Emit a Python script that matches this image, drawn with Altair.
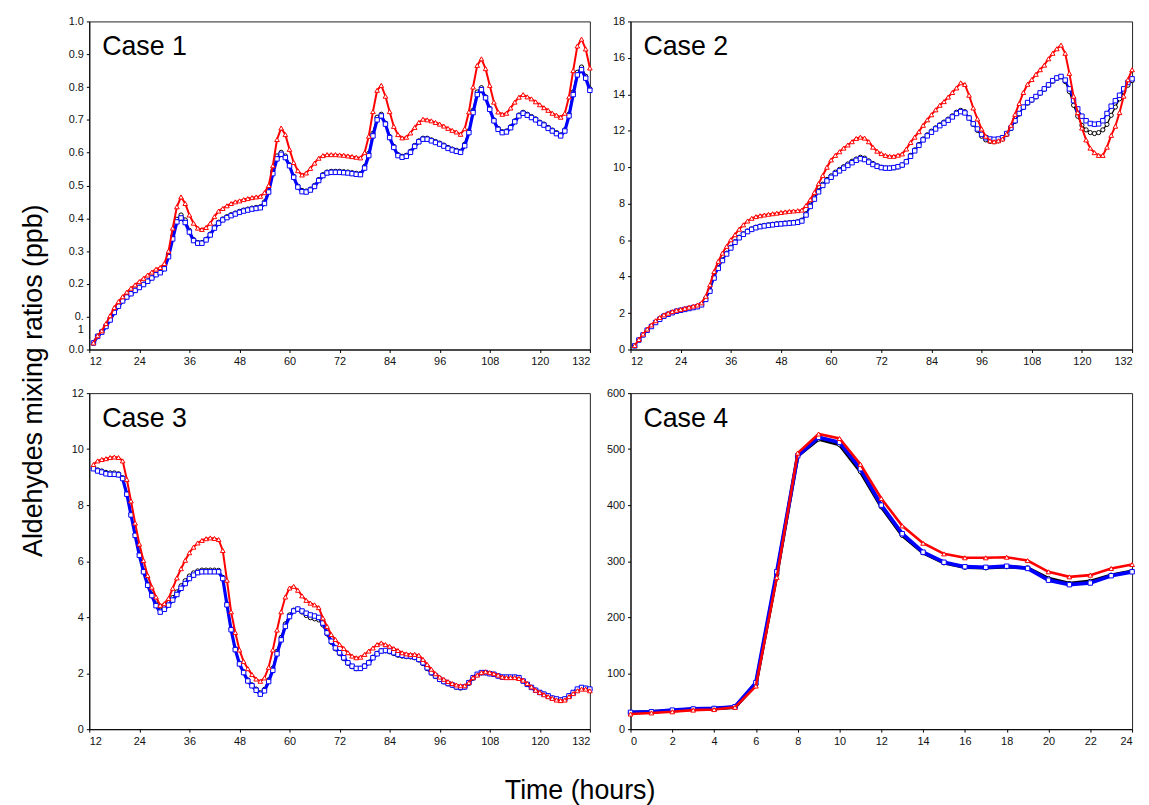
import altair as alt
import pandas as pd

FONT = "Liberation Sans"

HOURS_LONG = list(range(13, 133))
HOURS_DAY = list(range(0, 25))

CASE_LABELS = ["Case 1", "Case 2", "Case 3", "Case 4"]

X_TICKS_LONG = [12, 24, 36, 48, 60, 72, 84, 96, 108, 120, 132]
X_TICKS_DAY = [0, 2, 4, 6, 8, 10, 12, 14, 16, 18, 20, 22, 24]
Y_TICKS_1 = [0.0, 0.1, 0.2, 0.3, 0.4, 0.5, 0.6, 0.7, 0.8, 0.9, 1.0]
Y_TICKS_2 = [0, 2, 4, 6, 8, 10, 12, 14, 16, 18]
Y_TICKS_3 = [0, 2, 4, 6, 8, 10, 12]
Y_TICKS_4 = [0, 100, 200, 300, 400, 500, 600]

# ---------------- Case 1 (hours 13..132) ----------------
C1_RED = [
    0.020, 0.042, 0.057, 0.079, 0.103, 0.128, 0.146, 0.161, 0.175, 0.187,
    0.197, 0.207, 0.217, 0.227, 0.236, 0.245, 0.250, 0.262, 0.300, 0.370,
    0.435, 0.465, 0.445, 0.410, 0.385, 0.370, 0.366, 0.372, 0.385, 0.405,
    0.422, 0.430, 0.438, 0.445, 0.450, 0.453, 0.457, 0.460, 0.463, 0.465,
    0.467, 0.478, 0.500, 0.560, 0.640, 0.675, 0.655, 0.610, 0.570, 0.545,
    0.532, 0.538, 0.552, 0.568, 0.583, 0.591, 0.594, 0.594, 0.594, 0.593,
    0.592, 0.590, 0.588, 0.586, 0.584, 0.600, 0.650, 0.725, 0.790, 0.805,
    0.772, 0.725, 0.680, 0.655, 0.645, 0.647, 0.660, 0.677, 0.692, 0.702,
    0.700, 0.697, 0.692, 0.687, 0.681, 0.674, 0.668, 0.663, 0.656, 0.673,
    0.724, 0.800, 0.866, 0.886, 0.856, 0.805, 0.754, 0.724, 0.717, 0.720,
    0.736, 0.754, 0.769, 0.777, 0.770, 0.764, 0.755, 0.746, 0.737, 0.729,
    0.720, 0.714, 0.708, 0.720, 0.770, 0.850, 0.925, 0.946, 0.916, 0.858,
]
C1_BLUE = [
    0.020, 0.040, 0.053, 0.070, 0.090, 0.113, 0.132, 0.148, 0.160, 0.170,
    0.180, 0.189, 0.198, 0.208, 0.218, 0.228, 0.234, 0.246, 0.283, 0.337,
    0.389, 0.401, 0.387, 0.358, 0.332, 0.324, 0.324, 0.334, 0.349, 0.370,
    0.385, 0.395, 0.402, 0.408, 0.413, 0.418, 0.422, 0.425, 0.428, 0.430,
    0.432, 0.445, 0.480, 0.536, 0.581, 0.595, 0.585, 0.560, 0.525, 0.495,
    0.481, 0.480, 0.486, 0.497, 0.515, 0.530, 0.538, 0.540, 0.540, 0.540,
    0.539, 0.538, 0.536, 0.534, 0.533, 0.553, 0.591, 0.651, 0.700, 0.712,
    0.687, 0.646, 0.616, 0.591, 0.586, 0.589, 0.601, 0.619, 0.633, 0.641,
    0.641, 0.636, 0.631, 0.626, 0.620, 0.613, 0.608, 0.604, 0.601, 0.621,
    0.661, 0.722, 0.777, 0.792, 0.767, 0.732, 0.697, 0.671, 0.661, 0.663,
    0.676, 0.694, 0.712, 0.720, 0.714, 0.707, 0.700, 0.690, 0.684, 0.674,
    0.666, 0.658, 0.651, 0.666, 0.712, 0.777, 0.837, 0.853, 0.827, 0.790,
]
C1_BLACK = [
    0.020, 0.041, 0.054, 0.071, 0.091, 0.114, 0.133, 0.149, 0.161, 0.171,
    0.181, 0.190, 0.199, 0.209, 0.219, 0.229, 0.236, 0.250, 0.290, 0.345,
    0.397, 0.410, 0.395, 0.363, 0.335, 0.326, 0.326, 0.336, 0.352, 0.373,
    0.388, 0.398, 0.405, 0.411, 0.416, 0.421, 0.425, 0.428, 0.431, 0.433,
    0.435, 0.450, 0.487, 0.545, 0.590, 0.601, 0.590, 0.563, 0.528, 0.498,
    0.485, 0.483, 0.489, 0.500, 0.518, 0.533, 0.541, 0.543, 0.543, 0.543,
    0.542, 0.541, 0.539, 0.537, 0.536, 0.558, 0.598, 0.659, 0.708, 0.717,
    0.690, 0.649, 0.619, 0.594, 0.589, 0.592, 0.604, 0.622, 0.636, 0.644,
    0.644, 0.639, 0.634, 0.629, 0.623, 0.616, 0.611, 0.607, 0.604, 0.626,
    0.667, 0.729, 0.785, 0.798, 0.770, 0.735, 0.700, 0.674, 0.664, 0.666,
    0.679, 0.697, 0.715, 0.723, 0.717, 0.710, 0.703, 0.693, 0.687, 0.677,
    0.669, 0.661, 0.654, 0.670, 0.718, 0.785, 0.845, 0.861, 0.833, 0.795,
]

# ---------------- Case 2 (hours 13..132) ----------------
C2_RED = [
    0.22, 0.55, 0.85, 1.12, 1.35, 1.58, 1.76, 1.90, 1.99, 2.08,
    2.15, 2.20, 2.26, 2.32, 2.38, 2.44, 2.56, 2.92, 3.55, 4.28,
    4.84, 5.29, 5.66, 6.02, 6.30, 6.60, 6.84, 7.05, 7.20, 7.29,
    7.34, 7.38, 7.42, 7.45, 7.48, 7.52, 7.55, 7.58, 7.60, 7.62,
    7.65, 7.90, 8.22, 8.62, 9.10, 9.55, 10.00, 10.40, 10.65, 10.85,
    11.05, 11.22, 11.40, 11.58, 11.65, 11.60, 11.40, 11.10, 10.88, 10.75,
    10.65, 10.60, 10.60, 10.66, 10.73, 11.00, 11.36, 11.65, 11.95, 12.30,
    12.60, 12.88, 13.15, 13.40, 13.60, 13.85, 14.10, 14.35, 14.63, 14.54,
    13.95, 13.25, 12.65, 12.10, 11.70, 11.45, 11.40, 11.45, 11.55, 11.82,
    12.30, 12.90, 13.50, 14.10, 14.55, 14.81, 15.10, 15.35, 15.60, 15.95,
    16.25, 16.50, 16.70, 16.25, 15.15, 13.90, 13.00, 12.15, 11.50, 11.05,
    10.80, 10.65, 10.65, 11.10, 11.75, 12.25, 13.00, 13.90, 14.80, 15.35,
]
C2_BLUE = [
    0.20, 0.52, 0.80, 1.06, 1.26, 1.48, 1.66, 1.83, 1.93, 2.02,
    2.10, 2.15, 2.20, 2.25, 2.30, 2.35, 2.45, 2.75, 3.20, 3.92,
    4.45, 4.88, 5.24, 5.57, 5.88, 6.13, 6.32, 6.47, 6.59, 6.68,
    6.74, 6.78, 6.81, 6.84, 6.87, 6.89, 6.91, 6.93, 6.95, 6.98,
    7.05, 7.38, 7.85, 8.25, 8.65, 9.00, 9.25, 9.45, 9.65, 9.80,
    9.95, 10.10, 10.25, 10.38, 10.47, 10.42, 10.28, 10.15, 10.05, 9.98,
    9.95, 9.95, 9.98, 10.03, 10.12, 10.30, 10.60, 10.90, 11.20, 11.50,
    11.72, 11.92, 12.10, 12.28, 12.42, 12.58, 12.76, 12.95, 13.05, 12.98,
    12.70, 12.38, 12.10, 11.80, 11.62, 11.55, 11.53, 11.55, 11.62, 11.85,
    12.15, 12.55, 12.95, 13.30, 13.55, 13.70, 13.88, 14.08, 14.30, 14.52,
    14.75, 14.90, 14.98, 14.78, 14.30, 13.65, 13.20, 12.80, 12.55, 12.40,
    12.36, 12.38, 12.55, 12.95, 13.35, 13.65, 13.95, 14.30, 14.65, 14.85,
]
C2_BLACK = [
    0.21, 0.53, 0.81, 1.07, 1.28, 1.50, 1.68, 1.84, 1.94, 2.03,
    2.11, 2.16, 2.21, 2.26, 2.31, 2.36, 2.47, 2.78, 3.25, 3.98,
    4.50, 4.92, 5.28, 5.61, 5.91, 6.16, 6.35, 6.50, 6.62, 6.71,
    6.77, 6.81, 6.84, 6.87, 6.90, 6.92, 6.94, 6.96, 6.98, 7.01,
    7.10, 7.45, 7.92, 8.32, 8.72, 9.07, 9.33, 9.53, 9.73, 9.88,
    10.03, 10.18, 10.33, 10.45, 10.55, 10.50, 10.35, 10.20, 10.08, 10.00,
    9.96, 9.95, 9.97, 10.02, 10.12, 10.32, 10.65, 10.95, 11.25, 11.55,
    11.78, 11.98, 12.16, 12.33, 12.48, 12.64, 12.82, 13.02, 13.12, 13.05,
    12.72, 12.35, 12.02, 11.70, 11.50, 11.42, 11.40, 11.45, 11.55, 11.80,
    12.12, 12.52, 12.92, 13.28, 13.52, 13.68, 13.86, 14.06, 14.28, 14.50,
    14.72, 14.88, 14.96, 14.70, 14.15, 13.40, 12.80, 12.30, 12.05, 11.90,
    11.85, 11.90, 12.05, 12.35, 12.85, 13.30, 13.75, 14.15, 14.50, 14.75,
]

# ---------------- Case 3 (hours 13..132) ----------------
C3_RED = [
    9.45, 9.58, 9.63, 9.66, 9.70, 9.72, 9.70, 9.58, 8.92, 8.15,
    7.36, 6.61, 6.02, 5.49, 5.07, 4.72, 4.42, 4.48, 4.67, 5.03,
    5.40, 5.73, 6.03, 6.30, 6.50, 6.65, 6.74, 6.80, 6.83, 6.81,
    6.77, 6.38, 5.32, 4.19, 3.45, 2.83, 2.42, 2.16, 1.95, 1.79,
    1.71, 1.83, 2.21, 2.83, 3.54, 4.19, 4.72, 5.04, 5.10, 4.96,
    4.76, 4.60, 4.50, 4.44, 4.34, 3.97, 3.67, 3.38, 3.20, 3.02,
    2.88, 2.73, 2.61, 2.55, 2.57, 2.67, 2.79, 2.90, 3.02, 3.08,
    3.02, 2.96, 2.88, 2.81, 2.73, 2.69, 2.67, 2.67, 2.64, 2.49,
    2.31, 2.14, 1.98, 1.86, 1.78, 1.70, 1.63, 1.58, 1.55, 1.55,
    1.66, 1.84, 1.93, 2.02, 2.05, 2.02, 1.98, 1.93, 1.86, 1.84,
    1.84, 1.84, 1.81, 1.75, 1.63, 1.51, 1.39, 1.31, 1.23, 1.16,
    1.10, 1.04, 1.02, 1.04, 1.16, 1.27, 1.37, 1.43, 1.43, 1.37,
]
C3_BLUE = [
    9.30, 9.22, 9.18, 9.12, 9.10, 9.10, 9.08, 8.95, 8.39, 7.65,
    6.92, 6.21, 5.62, 5.14, 4.77, 4.41, 4.18, 4.28, 4.43, 4.61,
    4.81, 5.03, 5.20, 5.38, 5.50, 5.59, 5.62, 5.62, 5.62, 5.62,
    5.62, 5.38, 4.44, 3.55, 2.84, 2.33, 2.02, 1.72, 1.55, 1.39,
    1.25, 1.37, 1.70, 2.10, 2.69, 3.19, 3.67, 4.02, 4.22, 4.29,
    4.22, 4.14, 4.08, 4.04, 3.99, 3.79, 3.44, 3.14, 2.90, 2.73,
    2.55, 2.37, 2.25, 2.17, 2.17, 2.25, 2.37, 2.55, 2.69, 2.79,
    2.81, 2.79, 2.73, 2.67, 2.64, 2.61, 2.61, 2.57, 2.49, 2.37,
    2.19, 2.02, 1.90, 1.78, 1.70, 1.63, 1.58, 1.51, 1.49, 1.51,
    1.66, 1.84, 1.96, 2.02, 2.02, 1.98, 1.96, 1.90, 1.86, 1.86,
    1.86, 1.86, 1.84, 1.72, 1.60, 1.49, 1.39, 1.31, 1.25, 1.19,
    1.11, 1.08, 1.04, 1.08, 1.19, 1.31, 1.43, 1.49, 1.46, 1.43,
]
C3_BLACK = [
    9.32, 9.26, 9.22, 9.17, 9.15, 9.15, 9.12, 8.98, 8.42, 7.68,
    6.95, 6.25, 5.66, 5.18, 4.82, 4.47, 4.25, 4.35, 4.52, 4.70,
    4.90, 5.12, 5.30, 5.47, 5.58, 5.65, 5.68, 5.68, 5.68, 5.68,
    5.67, 5.42, 4.48, 3.58, 2.87, 2.36, 2.05, 1.76, 1.58, 1.43,
    1.30, 1.42, 1.76, 2.18, 2.78, 3.28, 3.76, 4.08, 4.25, 4.28,
    4.18, 4.06, 3.98, 3.94, 3.90, 3.72, 3.40, 3.10, 2.87, 2.70,
    2.52, 2.35, 2.23, 2.16, 2.17, 2.26, 2.39, 2.57, 2.71, 2.80,
    2.80, 2.76, 2.70, 2.64, 2.61, 2.59, 2.58, 2.55, 2.47, 2.34,
    2.16, 2.00, 1.88, 1.77, 1.69, 1.62, 1.57, 1.50, 1.47, 1.50,
    1.64, 1.82, 1.95, 2.01, 2.01, 1.98, 1.95, 1.90, 1.86, 1.85,
    1.85, 1.85, 1.83, 1.72, 1.60, 1.49, 1.39, 1.31, 1.25, 1.19,
    1.11, 1.07, 1.04, 1.07, 1.18, 1.30, 1.42, 1.48, 1.46, 1.42,
]

# ---------------- Case 4 (hours 0..24) ----------------
C4_RED = [27, 29, 31, 34, 35, 39, 77, 271, 493, 527, 519, 473, 412,
          363, 332, 313, 306, 306, 307, 301, 281, 272, 275, 287, 294]
C4_BLUE = [30, 31, 34, 36, 37, 40, 83, 281, 488, 521, 512, 465, 400,
           349, 316, 298, 290, 289, 291, 287, 266, 258, 261, 274, 281]
C4_BLACK = [30, 31, 33, 36, 37, 39, 80, 276, 488, 518, 508, 460, 397,
            346, 315, 297, 289, 288, 290, 288, 269, 260, 264, 275, 282]

STYLE = {
    "black": dict(color="#000000", shape="circle", size=18),
    "blue": dict(color="#0000FF", shape="square", size=20),
    "red": dict(color="#FF0000", shape="triangle-up", size=22),
}


def panel(hours, series, widths, xdom, xticks, ydom, yticks, label, width, height,
          yaxis_kwargs):
    xaxis = alt.Axis(values=xticks, format="d", title=None)
    yaxis = alt.Axis(values=yticks, title=None, **yaxis_kwargs)
    layers = []
    for name in ["black", "blue", "red"]:
        st = STYLE[name]
        df = pd.DataFrame({"hour": hours, "value": series[name]})
        base = alt.Chart(df).encode(
            x=alt.X("hour:Q", scale=alt.Scale(domain=xdom, nice=False, zero=False), axis=xaxis),
            y=alt.Y("value:Q", scale=alt.Scale(domain=ydom, nice=False), axis=yaxis),
        )
        layers.append(base.mark_line(color=st["color"], strokeWidth=widths[name]))
        layers.append(base.mark_point(shape=st["shape"], filled=True, fill="white",
                                      stroke=st["color"], strokeWidth=1, size=st["size"],
                                      opacity=1))
    txt = alt.Chart(pd.DataFrame({"label": [label]})).mark_text(
        align="left", baseline="alphabetic", fontSize=27, font=FONT, color="black"
    ).encode(x=alt.value(13), y=alt.value(34), text="label:N")
    return alt.layer(*layers, txt).properties(width=width, height=height)


y1_kwargs = dict(
    labelExpr="abs(datum.value - 0.1) < 0.001 ? ['0.', '1'] : format(datum.value, '.1f')",
)

W_THICK = {"black": 1.6, "blue": 3.2, "red": 2.0}
W_THIN = {"black": 1.3, "blue": 1.6, "red": 2.0}
W_DAY = {"black": 3.5, "blue": 3.8, "red": 2.6}

p1 = panel(HOURS_LONG, {"black": C1_BLACK, "blue": C1_BLUE, "red": C1_RED}, W_THICK,
           [12, 132], X_TICKS_LONG, [0, 1], Y_TICKS_1, CASE_LABELS[0], 505, 331, y1_kwargs)
p2 = panel(HOURS_LONG, {"black": C2_BLACK, "blue": C2_BLUE, "red": C2_RED}, W_THIN,
           [12, 132], X_TICKS_LONG, [0, 18], Y_TICKS_2, CASE_LABELS[1], 506, 331, dict(format="d"))
p3 = panel(HOURS_LONG, {"black": C3_BLACK, "blue": C3_BLUE, "red": C3_RED}, W_THICK,
           [12, 132], X_TICKS_LONG, [0, 12], Y_TICKS_3, CASE_LABELS[2], 505, 339, dict(format="d"))
p4 = panel(HOURS_DAY, {"black": C4_BLACK, "blue": C4_BLUE, "red": C4_RED}, W_DAY,
           [0, 24], X_TICKS_DAY, [0, 600], Y_TICKS_4, CASE_LABELS[3], 506, 339, dict(format="d"))

grid = alt.concat(p1, p2, p3, p4, columns=2, spacing={"row": 44, "column": 41},
                  bounds="flush").properties(
    title=alt.TitleParams("Aldehydes mixing ratios (ppb)", orient="left", anchor="middle",
                          fontSize=27, font=FONT, fontWeight="normal", color="black", offset=20)
)

chart = alt.vconcat(grid).properties(
    title=alt.TitleParams("Time (hours)", orient="bottom", anchor="middle", fontSize=27,
                          font=FONT, fontWeight="normal", color="black", offset=32),
    padding={"left": 12, "top": 3, "right": 0, "bottom": 0},
).configure_view(
    stroke="#222222", strokeWidth=1
).configure_axis(
    labelFont=FONT, labelFontSize=11, labelColor="#111111", tickColor="#000000",
    domainColor="#000000", tickSize=3, labelPadding=3, grid=False, domainWidth=1,
    tickWidth=1
)

chart.save("out.html", embed_options={"renderer": "svg", "actions": False})
